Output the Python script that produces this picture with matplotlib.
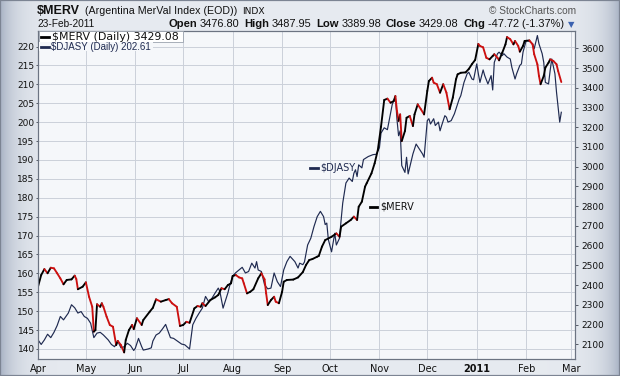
"""$MERV vs $DJASY daily chart, StockCharts style, 23-Feb-2011."""
from datetime import datetime

import numpy as np
import pandas as pd
import matplotlib
matplotlib.use("Agg")
import matplotlib.pyplot as plt
import matplotlib.dates as mdates
from matplotlib.collections import LineCollection
from matplotlib.lines import Line2D
from matplotlib.patches import Rectangle

# ---- data -------------------------------------------------------------------
merv_dates = [
    "2010-04-01", "2010-04-03", "2010-04-05", "2010-04-07", "2010-04-09", "2010-04-11", "2010-04-13",
    "2010-04-15", "2010-04-17", "2010-04-19", "2010-04-22", "2010-04-24", "2010-04-25", "2010-04-26",
    "2010-04-29", "2010-05-01", "2010-05-03", "2010-05-05", "2010-05-06", "2010-05-07", "2010-05-08",
    "2010-05-10", "2010-05-11", "2010-05-12", "2010-05-14", "2010-05-16", "2010-05-18", "2010-05-20",
    "2010-05-21", "2010-05-23", "2010-05-25", "2010-05-26", "2010-05-28", "2010-05-30", "2010-05-31",
    "2010-06-02", "2010-06-05", "2010-06-06", "2010-06-10", "2010-06-12", "2010-06-14", "2010-06-17",
    "2010-06-20", "2010-06-22", "2010-06-24", "2010-06-27", "2010-06-29", "2010-07-01", "2010-07-03",
    "2010-07-05", "2010-07-08", "2010-07-10", "2010-07-12", "2010-07-13", "2010-07-15", "2010-07-18",
    "2010-07-21", "2010-07-23", "2010-07-25", "2010-07-27", "2010-07-29", "2010-07-31", "2010-08-01",
    "2010-08-03", "2010-08-05", "2010-08-07", "2010-08-08", "2010-08-10", "2010-08-12", "2010-08-14",
    "2010-08-17", "2010-08-19", "2010-08-21", "2010-08-22", "2010-08-23", "2010-08-25", "2010-08-27",
    "2010-08-28", "2010-08-30", "2010-09-01", "2010-09-02", "2010-09-04", "2010-09-08", "2010-09-11",
    "2010-09-14", "2010-09-16", "2010-09-18", "2010-09-20", "2010-09-23", "2010-09-24", "2010-09-26",
    "2010-09-28", "2010-10-02", "2010-10-05", "2010-10-07", "2010-10-08", "2010-10-11", "2010-10-14",
    "2010-10-16", "2010-10-18", "2010-10-19", "2010-10-21", "2010-10-23", "2010-10-24", "2010-10-27",
    "2010-10-29", "2010-10-31", "2010-11-02", "2010-11-04", "2010-11-06", "2010-11-08", "2010-11-10",
    "2010-11-11", "2010-11-12", "2010-11-13", "2010-11-14", "2010-11-15", "2010-11-17", "2010-11-18",
    "2010-11-20", "2010-11-22", "2010-11-23", "2010-11-25", "2010-11-27", "2010-11-29", "2010-12-01",
    "2010-12-02", "2010-12-04", "2010-12-05", "2010-12-07", "2010-12-09", "2010-12-11", "2010-12-13",
    "2010-12-15", "2010-12-17", "2010-12-19", "2010-12-20", "2010-12-22", "2010-12-25", "2010-12-27",
    "2010-12-29", "2010-12-31", "2011-01-02", "2011-01-03", "2011-01-05", "2011-01-07", "2011-01-09",
    "2011-01-11", "2011-01-12", "2011-01-14", "2011-01-15", "2011-01-17", "2011-01-19", "2011-01-20",
    "2011-01-22", "2011-01-24", "2011-01-25", "2011-01-27", "2011-01-28", "2011-01-30", "2011-01-31",
    "2011-02-03", "2011-02-05", "2011-02-06", "2011-02-08", "2011-02-09", "2011-02-10", "2011-02-12",
    "2011-02-13", "2011-02-15", "2011-02-16", "2011-02-18", "2011-02-20", "2011-02-21", "2011-02-23",
]
merv_close = [
    2392, 2451, 2481, 2460, 2488, 2485, 2460, 2434, 2404, 2426, 2429, 2448, 2431, 2379,
    2392, 2414, 2341, 2290, 2164, 2172, 2303, 2290, 2308, 2290, 2240, 2198, 2189, 2096,
    2117, 2096, 2059, 2122, 2172, 2198, 2177, 2232, 2198, 2223, 2265, 2285, 2328, 2316,
    2324, 2329, 2308, 2290, 2193, 2198, 2214, 2209, 2282, 2294, 2290, 2308, 2294, 2324,
    2338, 2350, 2384, 2379, 2400, 2409, 2446, 2451, 2439, 2434, 2409, 2358, 2366, 2379,
    2434, 2460, 2429, 2358, 2299, 2324, 2341, 2316, 2308, 2366, 2417, 2426, 2428, 2439,
    2466, 2502, 2527, 2532, 2544, 2548, 2595, 2628, 2645, 2662, 2645, 2696, 2713, 2730,
    2747, 2730, 2797, 2823, 2899, 2916, 2966, 3017, 3085, 3203, 3338, 3345, 3324, 3333,
    3358, 3282, 3232, 3265, 3130, 3181, 3248, 3257, 3206, 3265, 3316, 3291, 3265, 3384,
    3434, 3451, 3426, 3418, 3375, 3418, 3375, 3291, 3350, 3443, 3468, 3476, 3478, 3495,
    3520, 3541, 3622, 3612, 3605, 3552, 3544, 3561, 3570, 3552, 3539, 3578, 3620, 3657,
    3646, 3620, 3637, 3612, 3583, 3612, 3637, 3640, 3620, 3570, 3519, 3460, 3418, 3460,
    3502, 3527, 3544, 3536, 3519, 3485, 3429.08,
]

djasy_dates = [
    "2010-04-01", "2010-04-03", "2010-04-05", "2010-04-07", "2010-04-09", "2010-04-11", "2010-04-13",
    "2010-04-15", "2010-04-17", "2010-04-20", "2010-04-22", "2010-04-24", "2010-04-26", "2010-04-28",
    "2010-04-30", "2010-05-02", "2010-05-04", "2010-05-06", "2010-05-08", "2010-05-10", "2010-05-12",
    "2010-05-15", "2010-05-17", "2010-05-19", "2010-05-21", "2010-05-23", "2010-05-25", "2010-05-27",
    "2010-05-29", "2010-05-31", "2010-06-01", "2010-06-03", "2010-06-05", "2010-06-06", "2010-06-09",
    "2010-06-11", "2010-06-12", "2010-06-14", "2010-06-16", "2010-06-18", "2010-06-20", "2010-06-21",
    "2010-06-23", "2010-06-25", "2010-06-28", "2010-06-30", "2010-07-02", "2010-07-05", "2010-07-07",
    "2010-07-09", "2010-07-11", "2010-07-13", "2010-07-15", "2010-07-17", "2010-07-19", "2010-07-21",
    "2010-07-23", "2010-07-24", "2010-07-26", "2010-07-29", "2010-07-30", "2010-08-01", "2010-08-03",
    "2010-08-05", "2010-08-07", "2010-08-09", "2010-08-11", "2010-08-13", "2010-08-15", "2010-08-16",
    "2010-08-17", "2010-08-19", "2010-08-21", "2010-08-23", "2010-08-25", "2010-08-27", "2010-08-29",
    "2010-08-31", "2010-09-02", "2010-09-04", "2010-09-06", "2010-09-09", "2010-09-11", "2010-09-12",
    "2010-09-14", "2010-09-15", "2010-09-17", "2010-09-19", "2010-09-21", "2010-09-23", "2010-09-25",
    "2010-09-27", "2010-09-28", "2010-09-29", "2010-09-30", "2010-10-02", "2010-10-04", "2010-10-05",
    "2010-10-07", "2010-10-08", "2010-10-09", "2010-10-10", "2010-10-11", "2010-10-13", "2010-10-15",
    "2010-10-16", "2010-10-17", "2010-10-18", "2010-10-19", "2010-10-21", "2010-10-22", "2010-10-25",
    "2010-10-28", "2010-10-30", "2010-11-01", "2010-11-02", "2010-11-04", "2010-11-06", "2010-11-08",
    "2010-11-09", "2010-11-11", "2010-11-12", "2010-11-13", "2010-11-14", "2010-11-15", "2010-11-17",
    "2010-11-18", "2010-11-19", "2010-11-22", "2010-11-24", "2010-11-26", "2010-11-28", "2010-11-29",
    "2010-12-01", "2010-12-02", "2010-12-03", "2010-12-05", "2010-12-06", "2010-12-08", "2010-12-09",
    "2010-12-10", "2010-12-12", "2010-12-13", "2010-12-14", "2010-12-16", "2010-12-18", "2010-12-19",
    "2010-12-21", "2010-12-22", "2010-12-24", "2010-12-26", "2010-12-27", "2010-12-29", "2010-12-30",
    "2011-01-01", "2011-01-02", "2011-01-03", "2011-01-05", "2011-01-06", "2011-01-08", "2011-01-10",
    "2011-01-11", "2011-01-12", "2011-01-14", "2011-01-15", "2011-01-17", "2011-01-18", "2011-01-20",
    "2011-01-22", "2011-01-23", "2011-01-25", "2011-01-26", "2011-01-28", "2011-01-29", "2011-01-30",
    "2011-02-01", "2011-02-03", "2011-02-05", "2011-02-06", "2011-02-08", "2011-02-09", "2011-02-11",
    "2011-02-12", "2011-02-13", "2011-02-15", "2011-02-16", "2011-02-17", "2011-02-19", "2011-02-20",
    "2011-02-22", "2011-02-23",
]
djasy_close = [
    142.4, 141.2, 142.4, 143.9, 143.0, 144.4, 146.2, 148.6, 147.7, 149.5, 151.7, 150.9, 149.5, 149.9,
    148.6, 148.1, 146.8, 143.0, 144.2, 144.4, 143.7, 142.4, 141.2, 140.6, 142.1, 140.3, 140.6, 141.5,
    140.9, 139.6, 140.2, 142.8, 140.6, 139.7, 140.0, 140.3, 142.1, 143.7, 144.2, 145.3, 146.5, 145.3,
    143.0, 142.8, 141.9, 141.3, 141.1, 140.0, 146.4, 148.1, 149.5, 150.8, 153.9, 152.5, 153.4, 154.8,
    156.1, 155.2, 150.8, 154.8, 156.5, 159.3, 160.2, 160.9, 161.6, 160.1, 160.5, 162.7, 161.4, 163.1,
    160.9, 160.5, 157.0, 155.9, 156.1, 160.1, 157.8, 156.5, 160.9, 163.1, 164.5, 163.1, 161.4, 162.7,
    162.3, 163.0, 167.5, 169.3, 172.4, 175.0, 176.4, 175.0, 172.9, 173.3, 168.9, 165.7, 170.6, 167.5,
    169.3, 174.2, 178.6, 181.2, 183.9, 185.2, 184.3, 186.5, 187.4, 185.6, 188.7, 187.9, 190.1, 190.9,
    191.4, 191.5, 193.2, 197.1, 198.5, 198.0, 202.5, 204.6, 206.8, 200.7, 196.4, 197.7, 188.5, 186.7,
    190.7, 186.3, 191.6, 194.2, 192.9, 191.6, 190.7, 200.4, 200.9, 199.5, 200.9, 199.1, 200.0, 197.7,
    199.1, 201.7, 201.3, 200.0, 200.4, 202.2, 203.5, 206.1, 207.0, 210.5, 212.8, 213.2, 211.4, 211.2,
    215.4, 212.8, 210.5, 213.8, 212.3, 210.1, 212.3, 208.5, 215.8, 218.1, 218.5, 217.6, 218.1, 217.2,
    216.7, 214.5, 211.4, 212.8, 215.0, 215.4, 218.5, 221.6, 221.4, 220.7, 219.4, 222.9, 220.7, 218.1,
    215.8, 210.5, 210.1, 213.6, 216.7, 212.8, 207.9, 200.0, 202.61,
]

left_ticks = list(range(140, 221, 5))
right_ticks = list(range(2100, 3601, 100))
month_starts = ["2010-04-01", "2010-05-01", "2010-06-01", "2010-07-01", "2010-08-01", "2010-09-01",
                "2010-10-01", "2010-11-01", "2010-12-01", "2011-01-01", "2011-02-01", "2011-03-01"]
month_labels = ["Apr", "May", "Jun", "Jul", "Aug", "Sep", "Oct", "Nov", "Dec", "2011", "Feb", "Mar"]
quote_labels = ["Open", "High", "Low", "Close", "Chg"]
quote_values = ["3476.80", "3487.95", "3389.98", "3429.08", "-47.72 (-1.37%)"]

# ---- style -------------------------------------------------------------------
W, H = 620, 376
INK, NAVY, RED, GRID, PLOTBG = "#111111", "#1f2a50", "#cc1010", "#cbd0d9", "#f5f7fa"
UP = "#000000"
plt.rcParams.update({"font.family": ["DejaVu Sans"], "axes.linewidth": 0.8})


def fx(x): return x / W
def fy(y): return 1 - y / H


fig = plt.figure(figsize=(W / 100, H / 100), dpi=100, facecolor="#e3e7ed")

# soft grey-blue frame gradient behind everything
bg = fig.add_axes([0, 0, 1, 1], zorder=-5)
u = np.linspace(0, 1, W)
edge = np.maximum(np.exp(-u * W / 16), np.exp(-(1 - u) * W / 16))
light, dark = np.array([0.905, 0.92, 0.942]), np.array([0.66, 0.70, 0.77])
bg.imshow((light + (dark - light) * edge[:, None])[None, :, :], aspect="auto", extent=[0, 1, 0, 1])
bg.axis("off")

ax = fig.add_axes([fx(38), fy(359), 537 / W, 328 / H], facecolor=PLOTBG)
ax.set_xlim(datetime(2010, 4, 1), datetime(2011, 3, 3, 14))
ax.set_ylim(137.35, 224.1)
ax.set_yticks(left_ticks)
ax.set_xticks(pd.to_datetime(month_starts))
ax.set_xticklabels(month_labels)
ax.grid(True, color=GRID, lw=0.7)
ax.set_axisbelow(True)
ax.tick_params(axis="x", length=0, pad=3.5, labelsize=7, colors=INK)
ax.tick_params(axis="y", length=1.8, width=0.7, pad=0.6, labelsize=6.5, colors="#555b66", labelcolor=INK)
for lab in ax.get_xticklabels():
    if lab.get_text() == "2011":
        lab.set_fontweight("bold")
for s in ax.spines.values():
    s.set_color("#6c7482")

dj_x = mdates.date2num(pd.to_datetime(djasy_dates))
ax.plot(dj_x, djasy_close, color=NAVY, lw=0.85, solid_joinstyle="round")

ax2 = ax.twinx()
ax2.set_ylim(2025.5, 3687.7)
ax2.set_yticks(right_ticks)
ax2.tick_params(axis="y", length=1.8, width=0.7, pad=2.5, labelsize=6.5, colors="#555b66", labelcolor=INK)
for s in ax2.spines.values():
    s.set_color("#6c7482")

# MERV: black on up days, red on down days
mx = mdates.date2num(pd.to_datetime(merv_dates))
my = np.asarray(merv_close, dtype=float)
segs = np.stack([np.column_stack([mx[:-1], my[:-1]]), np.column_stack([mx[1:], my[1:]])], axis=1)
cols = [UP if b > a else RED for a, b in zip(my[:-1], my[1:])]
ax2.add_collection(LineCollection(segs, colors=cols, linewidths=1.35, capstyle="round", joinstyle="round"))

# ---- header ----------------------------------------------------------------
fig.text(fx(37), fy(11), "$MERV", family="Liberation Sans", fontweight="bold", fontsize=9, va="center", color=INK)
fig.text(fx(85), fy(11.5), "(Argentina MerVal Index (EOD))", family="Liberation Sans", fontsize=7.7,
         va="center", color=INK)
fig.text(fx(242), fy(11.5), "INDX", fontsize=6.6, va="center", color=INK)
fig.text(fx(576), fy(11.5), "\u00a9 StockCharts.com", family="Liberation Sans", fontsize=7.3,
         va="center", ha="right", color="#555555")
fig.text(fx(37.5), fy(24), "23-Feb-2011", family="Liberation Sans", fontsize=7.3, va="center", color=INK)

renderer = fig.canvas.get_renderer()
xpos = 168
for lab, val in zip(quote_labels, quote_values):
    t = fig.text(fx(xpos), fy(24), lab, family="Liberation Sans", fontweight="bold", fontsize=8.1,
                 va="center", color=INK)
    xpos += t.get_window_extent(renderer).width + 2.5
    t = fig.text(fx(xpos), fy(24), val, family="Liberation Sans", fontsize=7.9, va="center", color=INK)
    xpos += t.get_window_extent(renderer).width + 5
fig.text(fx(xpos - 1), fy(24.5), "\u25bc", fontsize=6, va="center", color="#3b62b0")

# ---- legend block in the top-left corner of the plot --------------------------
fig.add_artist(Rectangle((fx(38.5), fy(42)), fx(144), 11 / H, transform=fig.transFigure,
                         facecolor="white", edgecolor="#9aa2ae", lw=0.6, zorder=1))
fig.add_artist(Rectangle((fx(38.5), fy(51)), fx(114), 9 / H, transform=fig.transFigure,
                         facecolor=PLOTBG, edgecolor="none", zorder=1))
fig.add_artist(Line2D([fx(40.5), fx(48.5)], [fy(36.7)] * 2, color=UP, lw=2, zorder=3))
fig.text(fx(51.5), fy(36.7), "$MERV (Daily) 3429.08", fontsize=7.9, va="center", color=INK, zorder=3)
fig.add_artist(Line2D([fx(40.5), fx(48.5)], [fy(46.5)] * 2, color=NAVY, lw=2, zorder=3))
fig.text(fx(51), fy(46.5), "$DJASY (Daily) 202.61", family="Liberation Sans", fontsize=7, va="center",
         color=NAVY, zorder=3)

# ---- inline series tags ------------------------------------------------------
fig.add_artist(Line2D([fx(310), fx(317.5)], [fy(168.3)] * 2, color=NAVY, lw=2, zorder=3))
fig.text(fx(320.5), fy(168.3), "$DJASY", fontsize=7, va="center", color=NAVY, zorder=3)
fig.add_artist(Line2D([fx(369.5), fx(377)], [fy(206.5)] * 2, color=UP, lw=2, zorder=3))
fig.text(fx(380.5), fy(206.5), "$MERV", fontsize=7, va="center", color=INK, zorder=3)

fig.add_artist(Rectangle((0, 0), 1, 1, transform=fig.transFigure, fill=False, edgecolor="#7c8493", lw=1.6))

fig.savefig("out.png", dpi=100, facecolor=fig.get_facecolor())
